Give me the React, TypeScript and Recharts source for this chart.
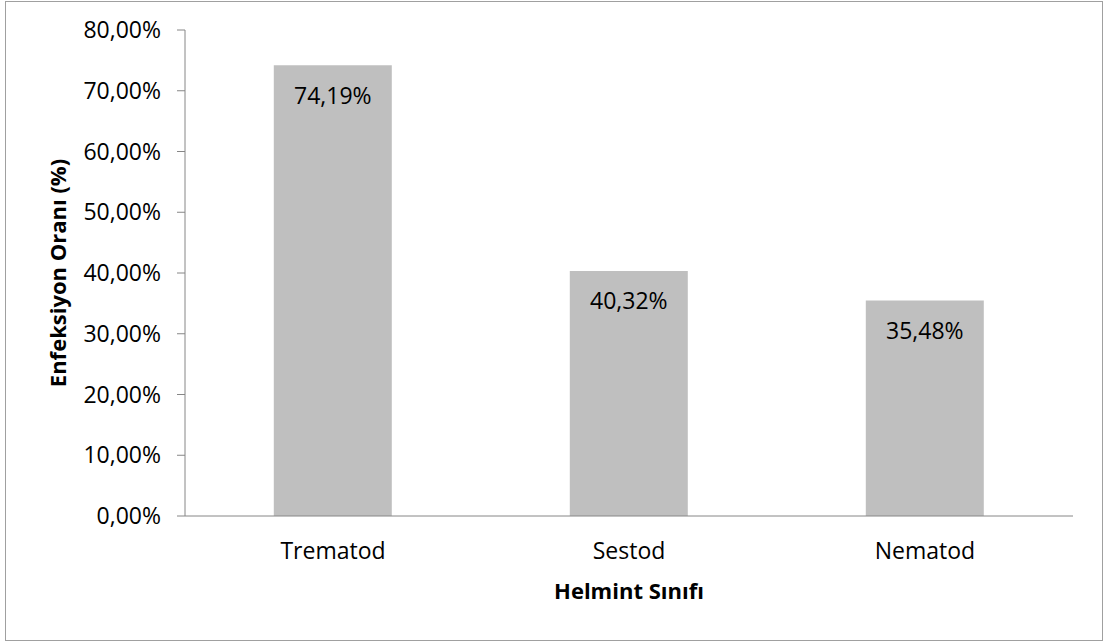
import { Bar, BarChart, LabelList, XAxis, YAxis } from "recharts"

const categories = ["Trematod", "Sestod", "Nematod"]
const rates = [74.19, 40.32, 35.48]
const yTicks = [0, 10, 20, 30, 40, 50, 60, 70, 80]

const data = categories.map((name, i) => ({ name, value: rates[i], pos: i + 0.5 }))

const fmt = (v: number) => v.toFixed(2).replace(".", ",") + "%"
const font = "'Open Sans', sans-serif"
const axisGray = "#868686"

export default function App() {
  return (
    <div style={{ position: "fixed", left: 0, top: 0, width: 1103, height: 641, background: "#fff", fontFamily: font }}>
      <div
        style={{
          position: "absolute",
          left: 5,
          top: 1,
          width: 1096,
          height: 638,
          border: "1px solid #a0a0a0",
        }}
      />
      <BarChart
        width={1103}
        height={641}
        data={data}
        margin={{ top: 30, right: 30, bottom: 65, left: 0 }}
        barCategoryGap="30%"
        style={{ position: "absolute", left: 0, top: 0 }}
      >
        <XAxis
          dataKey="name"
          xAxisId="cat"
          height={60}
          tickLine={false}
          axisLine={{ stroke: axisGray }}
          tick={{ fill: "#000", fontSize: 23, fontFamily: font }}
          tickMargin={21}
          label={{
            value: "Helmint Sınıfı",
            position: "insideBottom",
            offset: -23,
            fill: "#000",
            fontSize: 22,
            fontWeight: "bold",
            fontFamily: font,
          }}
        />
        <XAxis
          dataKey="pos"
          xAxisId="edge"
          type="number"
          domain={[0, 3]}
          ticks={[0, 1, 2, 3]}
          height={0}
          axisLine={false}
          tick={false}
          tickLine={{ stroke: axisGray }}
          tickSize={8}
        />
        <YAxis
          domain={[0, 80]}
          ticks={yTicks}
          width={185}
          tickFormatter={fmt}
          axisLine={{ stroke: axisGray }}
          tickLine={{ stroke: axisGray }}
          tickSize={8}
          tickMargin={16}
          tick={{ fill: "#000", fontSize: 23, fontFamily: font }}
          label={{
            value: "Enfeksiyon Oranı (%)",
            angle: -90,
            position: "insideLeft",
            offset: 58,
            style: { textAnchor: "middle" },
            fill: "#000",
            fontSize: 22,
            fontWeight: "bold",
            fontFamily: font,
          }}
        />
        <Bar dataKey="value" xAxisId="cat" fill="#bfbfbf" isAnimationActive={false}>
          <LabelList
            dataKey="value"
            position="insideTop"
            offset={22}
            formatter={(v: any) => fmt(Number(v))}
            fill="#000"
            fontSize={23}
            fontFamily={font}
          />
        </Bar>
      </BarChart>
    </div>
  )
}
